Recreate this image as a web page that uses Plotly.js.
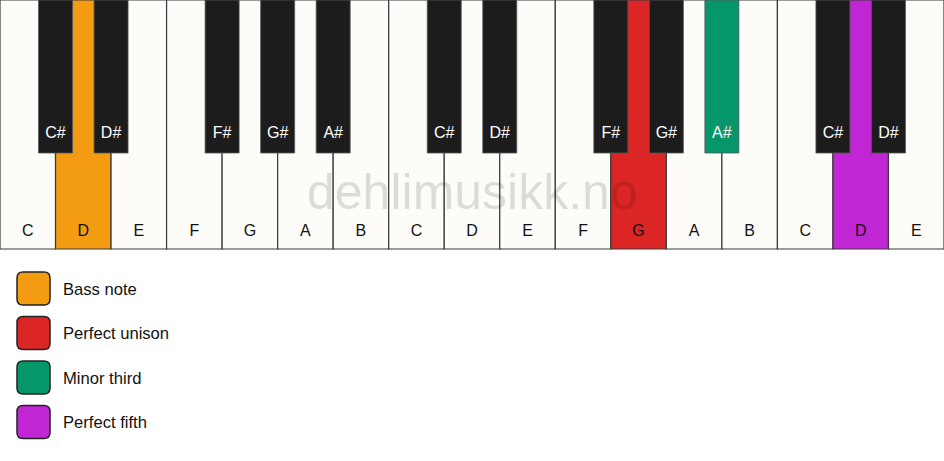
<!DOCTYPE html>
<html>
<head>
<meta charset="utf-8">
<script src="https://cdn.plot.ly/plotly-3.0.1.min.js"></script>
<style>
  html, body { margin: 0; padding: 0; background: #fff; }
  #chart { width: 944px; height: 461px; }
</style>
</head>
<body>
<div id="chart"></div>
<script>
// keyboard data
var whiteNotes = ['C','D','E','F','G','A','B','C','D','E','F','G','A','B','C','D','E'];
// black keys sit on the boundary after these white key indexes
var blackSlots = [1, 2, 4, 5, 6, 8, 9, 11, 12, 13, 15, 16];
var blackNotes = ['C#','D#','F#','G#','A#','C#','D#','F#','G#','A#','C#','D#'];

// highlighted keys: white index -> colour, black slot -> colour
var whiteMarked = { 1: '#F39C12', 11: '#DC2626', 15: '#C026D3' };
var blackMarked = { 13: '#059669' };

var legendLabels = ['Bass note', 'Perfect unison', 'Minor third', 'Perfect fifth'];
var legendColors = ['#F39C12', '#DC2626', '#059669', '#C026D3'];

var W = 944, H = 461;
var kw = W / whiteNotes.length;
var whiteLen = 249, blackLen = 153, blackW = 34;

var wx = whiteNotes.map(function (n, i) { return (i + 0.5) * kw; });
var wc = whiteNotes.map(function (n, i) { return whiteMarked[i] || '#FDFCF9'; });
var bx = blackSlots.map(function (s) { return s * kw; });
var bc = blackSlots.map(function (s) { return blackMarked[s] || '#1C1C1C'; });

var whiteKeys = {
  x: wx, y: whiteNotes.map(function () { return whiteLen; }), base: 0,
  type: 'bar', width: kw,
  marker: { color: wc, line: { color: '#3a3a3a', width: 1.2 } },
  hoverinfo: 'skip'
};
var blackKeys = {
  x: bx, y: blackNotes.map(function () { return blackLen; }), base: 0,
  type: 'bar', width: blackW,
  marker: { color: bc, line: { color: '#555', width: 0.8 } },
  hoverinfo: 'skip'
};
var whiteText = {
  x: wx, y: whiteNotes.map(function () { return 232; }),
  mode: 'text', type: 'scatter', text: whiteNotes,
  textfont: { family: 'Liberation Sans, Arial, sans-serif', size: 16, color: '#111' },
  hoverinfo: 'skip'
};
var blackText = {
  x: bx, y: blackNotes.map(function () { return 134; }),
  mode: 'text', type: 'scatter', text: blackNotes,
  textfont: { family: 'Liberation Sans, Arial, sans-serif', size: 16, color: '#fff' },
  hoverinfo: 'skip'
};

// legend
var legTop = 272, legStep = 44.5, sq = 33, r = 6, legX = 17;
var legendText = {
  x: legendLabels.map(function () { return 63; }),
  y: legendLabels.map(function (l, i) { return legTop + i * legStep + sq / 2 + 2; }),
  mode: 'text', type: 'scatter', text: legendLabels, textposition: 'middle right',
  textfont: { family: 'Liberation Sans, Arial, sans-serif', size: 16.6, color: '#111' },
  hoverinfo: 'skip'
};

var shapes = legendColors.map(function (c, i) {
  var x0 = legX, x1 = legX + sq, y0 = legTop + i * legStep, y1 = y0 + sq;
  var p = 'M' + (x0 + r) + ',' + y0 + ' L' + (x1 - r) + ',' + y0 +
    ' Q' + x1 + ',' + y0 + ' ' + x1 + ',' + (y0 + r) +
    ' L' + x1 + ',' + (y1 - r) + ' Q' + x1 + ',' + y1 + ' ' + (x1 - r) + ',' + y1 +
    ' L' + (x0 + r) + ',' + y1 + ' Q' + x0 + ',' + y1 + ' ' + x0 + ',' + (y1 - r) +
    ' L' + x0 + ',' + (y0 + r) + ' Q' + x0 + ',' + y0 + ' ' + (x0 + r) + ',' + y0 + ' Z';
  return { type: 'path', path: p, xref: 'x', yref: 'y', fillcolor: c,
           line: { color: '#222', width: 1.5 } };
});

var layout = {
  width: W, height: H,
  margin: { l: 0, r: 0, t: 0, b: 0 },
  paper_bgcolor: '#fff', plot_bgcolor: '#fff',
  barmode: 'overlay', bargap: 0,
  showlegend: false,
  xaxis: { range: [0, W], visible: false, fixedrange: true },
  yaxis: { range: [H, 0], visible: false, fixedrange: true },
  shapes: shapes,
  annotations: [{
    x: 472, y: 192, xref: 'x', yref: 'y', showarrow: false,
    text: 'dehlimusikk.no',
    font: { family: 'Liberation Sans, Arial, sans-serif', size: 50, color: 'rgba(0,0,0,0.13)' }
  }]
};

Plotly.newPlot('chart', [whiteKeys, blackKeys, whiteText, blackText, legendText], layout,
  { displayModeBar: false, staticPlot: true });
</script>
</body>
</html>
